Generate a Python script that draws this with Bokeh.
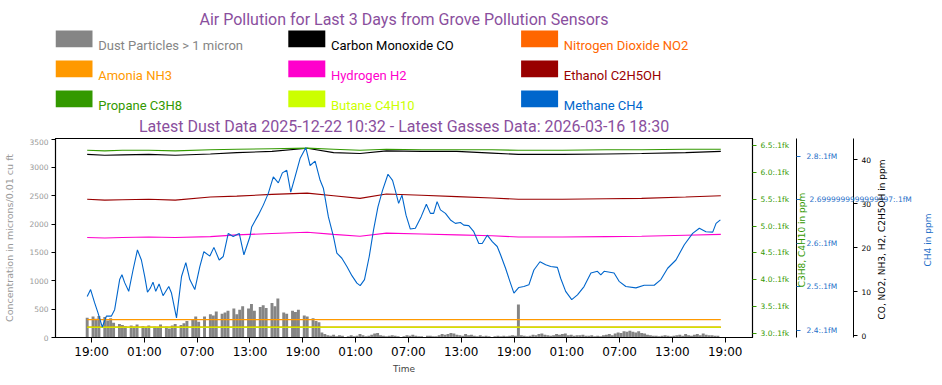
import math
import pandas as pd
from bokeh.plotting import figure
from bokeh.models import (Range1d, LinearAxis, FixedTicker, DatetimeTickFormatter,
                          Label, ColumnDataSource)
from bokeh.layouts import column
from bokeh.embed import file_html
from bokeh.resources import INLINE
from bokeh.core.properties import value

# ---------------- data ----------------
TITLE = "Air Pollution for Last 3 Days from Grove Pollution Sensors"
SUBTITLE = "Latest Dust Data 2025-12-22 10:32 - Latest Gasses Data: 2026-03-16 18:30"

legend_names = ["Dust Particles > 1 micron", "Carbon Monoxide CO", "Nitrogen Dioxide NO2",
                "Amonia NH3", "Hydrogen H2", "Ethanol C2H5OH",
                "Propane C3H8", "Butane C4H10", "Methane CH4"]
legend_colors = ["#858585", "#000000", "#ff6600",
                 "#ff9900", "#ff00cc", "#990000",
                 "#339900", "#ccff00", "#0066cc"]

start = "2026-03-13 18:30"
dust_step_minutes = 20
dust = [
    350, 0, 370,   330, 380, 0,   360, 300, 340,   260, 0, 240,   220, 200, 0,     # h0-4
    210, 190, 230, 0, 200, 180,   210, 0, 190,     170, 230, 0,   190, 160, 210,   # h5-9
    240, 0, 220,   250, 290, 0,   320, 370, 280,   0, 370, 0,     410, 390, 460,   # h10-14
    0, 420, 440,   470, 0, 510,   410, 490, 550,   0, 510, 590,   470, 0, 540,     # h15-19
    570, 520, 0,   610, 550, 690, 0, 440, 420,     0, 470, 450,   490, 0, 390,     # h20-24
    370, 0, 340,   290, 270, 90,  60, 40, 30,      50, 20, 40,    30, 10, 20,      # h25-29
    40, 20, 30,    60, 40, 20,    30, 50, 70,      80, 40, 30,    20, 30, 40,      # h30-34
    30, 20, 10,    20, 40, 30,    50, 30, 20,      20, 10, 30,    30, 20, 20,      # h35-39
    40, 60, 50,    60, 80, 70,    50, 40, 30,      60, 40, 50,    30, 20, 40,      # h40-44
    20, 30, 20,    10, 20, 30,    20, 30, 20,      30, 40, 30,    580, 40, 30,     # h45-49
    20, 30, 50,    40, 60, 70,    50, 40, 30,      40, 60, 50,    60, 70, 40,      # h50-54
    50, 30, 40,    40, 50, 30,    30, 40, 20,      30, 20, 40,    50, 60, 40,      # h55-59
    70, 90, 80,    110, 100, 120, 100, 90, 110,    80, 70, 50,    40, 30, 30,      # h60-64
    20, 30, 40,    30, 20, 30,    40, 50, 30,      60, 40, 30,    50, 60, 40,      # h65-69
    70, 50, 40,    40, 30, 30,                                                     # h70-71
]

gas_hours = [0, 2, 4, 7, 10, 14, 17, 21, 25, 28, 31, 34, 38, 42, 46, 49, 54, 59, 63, 68, 72]
co_ppm = [41.2, 41.0, 41.1, 41.2, 41.0, 41.3, 41.6, 41.9, 42.6, 41.6, 41.4, 42.0, 41.9, 41.9,
          41.5, 41.2, 41.2, 41.3, 41.4, 41.6, 41.9]
no2_ppm = [1.88] * 21
nh3_ppm = [3.62] * 21
h2_ppm = [22.3, 22.2, 22.3, 22.4, 22.3, 22.5, 22.9, 23.2, 23.5, 23.0, 22.6, 23.3, 23.1, 22.9,
          22.7, 22.4, 22.4, 22.5, 22.6, 22.8, 23.0]
c2h5oh_ppm = [31.0, 30.8, 30.9, 31.0, 30.8, 31.5, 31.7, 32.1, 32.4, 31.8, 31.2, 32.2, 31.9, 31.6,
              31.3, 31.0, 31.0, 31.1, 31.2, 31.5, 31.8]
c3h8_ppm = [6.41, 6.40, 6.41, 6.41, 6.40, 6.42, 6.43, 6.44, 6.45, 6.43, 6.41, 6.43, 6.42, 6.42,
            6.42, 6.41, 6.41, 6.42, 6.42, 6.43, 6.43]
c4h10_ppm = [3.117] * 21

ch4_hours = [0.0, 0.39, 0.84, 1.22, 1.72, 2.18, 2.74, 3.12, 3.69, 3.95,
             4.26, 4.72, 5.21, 5.71, 6.16, 6.54, 6.85, 7.19, 7.48, 7.79,
             8.17, 8.62, 9.27, 9.58, 10.15, 10.72, 11.21, 11.66, 12.23, 12.80,
             13.26, 13.94, 14.40, 15.00, 15.46, 16.03, 16.59, 17.28, 17.81, 18.50,
             18.69, 19.44, 20.01, 20.58, 21.15, 21.72, 22.18, 22.68, 23.13, 23.62,
             24.19, 24.84, 25.33, 25.90, 26.47, 26.85, 27.41, 27.98, 28.37, 28.94,
             29.51, 30.08, 30.65, 31.02, 31.51, 32.05, 32.54, 33.04, 33.56, 34.18,
             34.70, 35.01, 35.39, 35.77, 36.23, 36.72, 37.29, 37.94, 38.54, 39.00,
             39.37, 39.76, 40.14, 40.71, 41.28, 41.84, 42.41, 42.79, 43.36, 43.93,
             44.50, 44.89, 45.46, 46.03, 46.59, 46.97, 47.54, 48.03, 48.49, 49.05,
             49.62, 50.19, 50.76, 51.45, 52.10, 52.67, 53.43, 53.80, 54.37, 55.06,
             55.71, 56.46, 57.24, 57.98, 58.36, 58.74, 59.87, 60.44, 61.21, 62.35,
             63.29, 64.43, 65.19, 65.96, 66.90, 67.85, 68.80, 69.56, 70.31, 71.08,
             71.46, 71.95]
ch4_ppm = [2.478, 2.494, 2.464, 2.441, 2.408, 2.433, 2.433, 2.448, 2.517, 2.528,
           2.510, 2.490, 2.539, 2.585, 2.562, 2.524, 2.488, 2.498, 2.511, 2.490,
           2.507, 2.480, 2.501, 2.486, 2.429, 2.524, 2.556, 2.517, 2.494, 2.547,
           2.581, 2.571, 2.591, 2.562, 2.570, 2.623, 2.616, 2.623, 2.574, 2.616,
           2.638, 2.665, 2.688, 2.715, 2.753, 2.739, 2.762, 2.768, 2.718, 2.753,
           2.795, 2.820, 2.779, 2.789, 2.745, 2.726, 2.661, 2.616, 2.578, 2.566,
           2.547, 2.526, 2.509, 2.503, 2.517, 2.570, 2.631, 2.684, 2.722, 2.759,
           2.745, 2.722, 2.692, 2.711, 2.665, 2.633, 2.635, 2.661, 2.690, 2.669,
           2.669, 2.696, 2.677, 2.669, 2.654, 2.646, 2.648, 2.642, 2.641, 2.627,
           2.600, 2.600, 2.619, 2.604, 2.593, 2.574, 2.543, 2.513, 2.486, 2.499,
           2.501, 2.505, 2.539, 2.558, 2.551, 2.547, 2.545, 2.520, 2.490, 2.471,
           2.482, 2.501, 2.532, 2.536, 2.528, 2.536, 2.532, 2.513, 2.501, 2.498,
           2.504, 2.504, 2.517, 2.543, 2.562, 2.597, 2.623, 2.635, 2.627, 2.626,
           2.646, 2.654]

x_tick_times = ["2026-03-13 19:00", "2026-03-14 01:00", "2026-03-14 07:00", "2026-03-14 13:00",
                "2026-03-14 19:00", "2026-03-15 01:00", "2026-03-15 07:00", "2026-03-15 13:00",
                "2026-03-15 19:00", "2026-03-16 01:00", "2026-03-16 07:00", "2026-03-16 13:00",
                "2026-03-16 19:00"]
left_ticks = [0, 500, 1000, 1500, 2000, 2500, 3000, 3500]
green_ticks = [3.0, 3.5, 4.0, 4.5, 5.0, 5.5, 6.0, 6.5]
green_labels = ["3.0:.1fk", "3.5:.1fk", "4.0:.1fk", "4.5:.1fk", "5.0:.1fk", "5.5:.1fk",
                "6.0:.1fk", "6.5:.1fk"]
blue_ticks = [2.4, 2.5, 2.6, 2.7, 2.8]
blue_labels = ["2.4:.1fM", "2.5:.1fM", "2.6:.1fM", "2.6999999999999997:.1fM", "2.8:.1fM"]
black_ticks = [0, 10, 20, 30, 40]

# ---------------- layout constants (page pixels) ----------------
W = 942
HDR_H = 138           # header: page y 0 .. 138
MAIN_H = 247          # main:   page y 138 .. 385
BL, BR = 55, 190      # frame spans page x 55 .. 752
FR_TOP, FR_BOT = 138, 338
FONT_MPL = "DejaVu Sans"
PURPLE = "#8a4f9e"
BLUE_TXT = "#1f6fc8"
GREEN_TXT = "#339900"
BLUE_LO, BLUE_HI = 2.384, 2.841

t0 = pd.Timestamp(start)
hour = pd.Timedelta(hours=1)


def blue_at(page_y):
    """value of the CH4 scale that sits at a given page row (layout helper)"""
    return BLUE_LO + (FR_BOT - page_y) * (BLUE_HI - BLUE_LO) / (FR_BOT - FR_TOP)


# ---------------- header (title, legend, subtitle) ----------------
# header coordinates: x = page x, y = 138 - page y
hdr = figure(width=W, height=HDR_H, x_range=Range1d(BL, W - BR), y_range=Range1d(0, HDR_H),
             output_backend="svg", toolbar_location=None,
             min_border_left=BL, min_border_right=BR, min_border_top=0, min_border_bottom=0,
             x_axis_location=None, y_axis_location=None, outline_line_color=None)
hdr.xgrid.grid_line_color = None
hdr.ygrid.grid_line_color = None

mid_x = (BL + W - BR) / 2
hdr.text(x=[mid_x], y=[HDR_H - 19.0], text=[TITLE], text_font=value("Roboto"),
         text_font_size="16px", text_color=PURPLE, text_align="center",
         text_baseline="alphabetic")
hdr.text(x=[mid_x], y=[HDR_H - 125.8], text=[SUBTITLE], text_font=value("Roboto"),
         text_font_size="16px", text_color=PURPLE, text_align="center",
         text_baseline="alphabetic")

col_w, row_h = 232.8, 30
lg = dict(left=[], right=[], top=[], bottom=[], color=[], tx=[], ty=[], name=[])
for i, (nm, c) in enumerate(zip(legend_names, legend_colors)):
    ci, ri = i % 3, i // 3
    lg["left"].append(55 + col_w * ci)
    lg["right"].append(55 + col_w * ci + 37)
    lg["top"].append(HDR_H - 30 - row_h * ri)
    lg["bottom"].append(HDR_H - 46.7 - row_h * ri)
    lg["color"].append(c)
    lg["tx"].append(97.7 + col_w * ci)
    lg["ty"].append(HDR_H - 45.2 - row_h * ri)
    lg["name"].append(nm)
lsrc = ColumnDataSource(lg)
hdr.quad(left="left", right="right", top="top", bottom="bottom", fill_color="color",
         line_color=None, source=lsrc)
hdr.text(x="tx", y="ty", text="name", text_color="color", text_font=value("Roboto"),
         text_font_size="13px", text_baseline="alphabetic", source=lsrc)

# ---------------- main chart ----------------
p = figure(width=W, height=MAIN_H, x_axis_type="datetime",
           x_range=Range1d(t0 - 3.6 * hour, t0 + 75.6 * hour),
           y_range=Range1d(0, 3510),
           output_backend="svg", toolbar_location=None,
           min_border_left=BL, min_border_right=BR, min_border_top=0,
           min_border_bottom=MAIN_H - (FR_BOT - FR_TOP))
p.xgrid.grid_line_color = None
p.ygrid.grid_line_color = None
p.outline_line_color = "black"
p.outline_line_width = 1.2

p.extra_y_ranges = {"green": Range1d(2.926, 6.630),
                    "blue": Range1d(BLUE_LO, BLUE_HI),
                    "black": Range1d(-0.45, 44.82)}
p.extra_x_ranges = {"px": Range1d(BL, W - BR)}

# dust bars
dust_times = [t0 + pd.Timedelta(minutes=dust_step_minutes * k) for k in range(len(dust))]
dsrc = ColumnDataSource(dict(x=dust_times, top=dust))
p.vbar(x="x", top="top", width=dust_step_minutes * 60 * 1000, fill_color="#858585",
       line_color=None, source=dsrc)

gas_times = [t0 + h * hour for h in gas_hours]
p.line(gas_times, co_ppm, color="#000000", line_width=1.1, y_range_name="black")
p.line(gas_times, no2_ppm, color="#ff6600", line_width=1.6, y_range_name="black")
p.line(gas_times, nh3_ppm, color="#ff9900", line_width=1.4, y_range_name="black")
p.line(gas_times, h2_ppm, color="#ff00cc", line_width=1.1, y_range_name="black")
p.line(gas_times, c2h5oh_ppm, color="#990000", line_width=1.1, y_range_name="black")
p.line(gas_times, c3h8_ppm, color="#339900", line_width=1.1, y_range_name="green")
p.line(gas_times, c4h10_ppm, color="#cfe600", line_width=1.6, y_range_name="green")
ch4_times = [t0 + h * hour for h in ch4_hours]
p.line(ch4_times, ch4_ppm, color="#0066cc", line_width=1.1, y_range_name="blue")

# bottom axis
xt = [pd.Timestamp(s).value / 1e6 for s in x_tick_times]
xa = p.xaxis[0]
xa.ticker = FixedTicker(ticks=xt)
xa.formatter = DatetimeTickFormatter(minutes="%H:%M", hourmin="%H:%M", hours="%H:%M",
                                     days="%H:%M", months="%H:%M", years="%H:%M")
xa.major_label_text_font = FONT_MPL
xa.major_label_text_font_size = "12px"
xa.major_label_text_color = "black"
xa.major_tick_out = 5
xa.major_tick_in = 0
xa.minor_tick_out = 0
xa.minor_tick_in = 0
xa.major_label_standoff = 2
xa.axis_label = "Time"
xa.axis_label_text_font = FONT_MPL
xa.axis_label_text_font_size = "9px"
xa.axis_label_text_font_style = "normal"
xa.axis_label_standoff = 2

# left axis
ya = p.yaxis[0]
ya.ticker = FixedTicker(ticks=left_ticks)
ya.major_label_text_font = FONT_MPL
ya.major_label_text_font_size = "7.5px"
ya.major_label_text_color = "#999999"
ya.major_tick_out = 4
ya.major_tick_in = 0
ya.minor_tick_out = 0
ya.minor_tick_in = 0
ya.major_label_standoff = 3
ya.axis_label = "Concentration in microns/0.01 cu ft"
ya.axis_label_text_font = FONT_MPL
ya.axis_label_text_font_size = "9.5px"
ya.axis_label_text_font_style = "normal"
ya.axis_label_text_color = "#999999"
ya.axis_label_standoff = 11


def tick_axis(rng, ticks, color, standoff, overrides=None, spacer_size=None):
    ax = LinearAxis(y_range_name=rng, ticker=FixedTicker(ticks=ticks))
    if overrides:
        ax.major_label_overrides = overrides
    ax.major_label_text_font = FONT_MPL
    ax.major_label_text_font_size = "7.5px"
    ax.major_label_text_color = color
    ax.major_tick_line_color = color
    ax.major_tick_out = 4
    ax.major_tick_in = 0
    ax.minor_tick_out = 0
    ax.minor_tick_in = 0
    ax.major_label_standoff = standoff
    ax.axis_line_color = "black"
    if spacer_size:
        ax.axis_label = " "
        ax.axis_label_text_font_size = spacer_size
        ax.axis_label_standoff = 0
    return ax


p.add_layout(tick_axis("green", green_ticks, GREEN_TXT, 4,
                       dict(zip(green_ticks, green_labels)), spacer_size="1px"), "right")
blue_over = dict(zip(blue_ticks, blue_labels))
blue_over[2.7] = ""
p.add_layout(tick_axis("blue", blue_ticks, BLUE_TXT, 6, blue_over, spacer_size="9px"), "right")
p.add_layout(tick_axis("black", black_ticks, "black", 4), "right")


def side_label(text, x, y, color, size, angle=0.0, align="center"):
    return Label(x=x, y=y, x_range_name="px", y_range_name="blue", text=text,
                 text_font=FONT_MPL, text_font_size=size, text_color=color,
                 text_align=align, text_baseline="middle", angle=angle)


# rotated scale titles (bottom-to-top, as in the original)
p.add_layout(side_label("C3H8, C4H10 in ppm", 801, blue_at(240), GREEN_TXT, "9px",
                        math.pi / 2), "right")
p.add_layout(side_label("CO, NO2, NH3, H2, C2H5OH in ppm", 881.5, blue_at(239.5), "black",
                        "9px", math.pi / 2), "right")
p.add_layout(side_label("CH4 in ppm", 927, blue_at(240), BLUE_TXT, "9px", math.pi / 2),
             "right")
# the long, overlapping 2.7 tick label of the CH4 scale
p.add_layout(side_label(blue_labels[3], 809, 2.7, BLUE_TXT, "7.5px", 0.0, "left"), "below")

layout = column(hdr, p)
open("out.html", "w").write(file_html(layout, INLINE))
